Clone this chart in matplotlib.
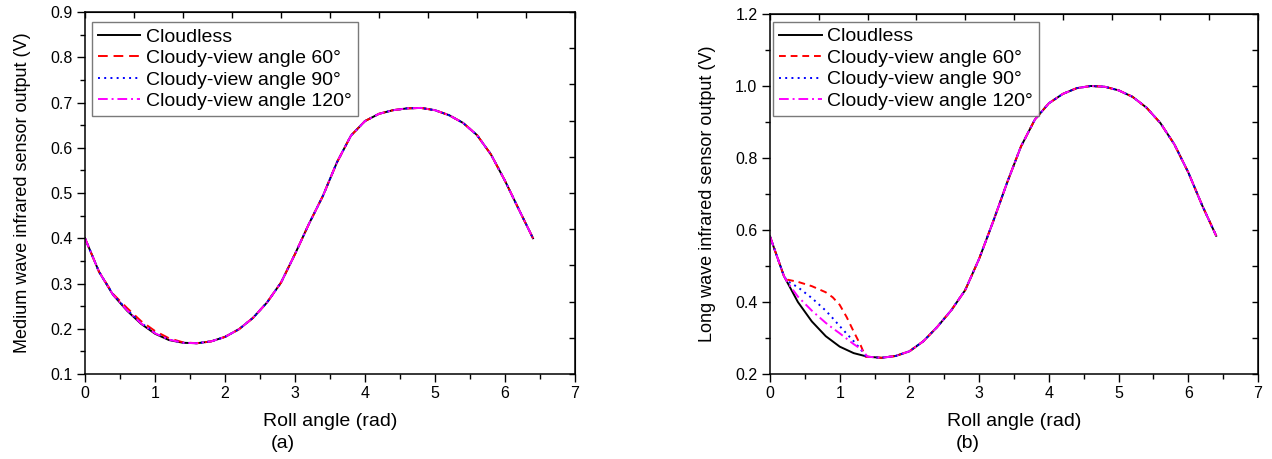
import matplotlib
matplotlib.use("Agg")
import matplotlib.pyplot as plt
import numpy as np

plt.rcParams['font.family'] = ['Liberation Sans', 'DejaVu Sans']

# roll angle grid (rad)
roll = [0, 0.2, 0.4, 0.6, 0.8, 1.0, 1.2, 1.4, 1.6, 1.8, 2.0, 2.2, 2.4, 2.6, 2.8, 3.0,
        3.2, 3.4, 3.6, 3.8, 4.0, 4.2, 4.4, 4.6, 4.8, 5.0, 5.2, 5.4, 5.6, 5.8, 6.0, 6.2, 6.4]

# (a) medium wave, cloudless
mw_clear = [0.400, 0.326, 0.275, 0.240, 0.211, 0.189, 0.175, 0.169, 0.168, 0.172, 0.182,
            0.199, 0.224, 0.258, 0.302, 0.365, 0.432, 0.494, 0.568, 0.627, 0.659, 0.675,
            0.683, 0.687, 0.688, 0.683, 0.672, 0.655, 0.628, 0.585, 0.527, 0.463, 0.400]
# (a) cloudy curves only differ on the descending branch
mw_dev_x = [0.4, 0.6, 0.8, 1.0, 1.2, 1.4]
mw_60 = [0.277, 0.246, 0.217, 0.195, 0.179, 0.170]
mw_90 = [0.276, 0.242, 0.213, 0.191, 0.176, 0.169]
mw_120 = [0.275, 0.241, 0.212, 0.190, 0.176, 0.169]

# (b) long wave, cloudless
lw_clear = [0.582, 0.472, 0.400, 0.346, 0.305, 0.276, 0.258, 0.248, 0.245, 0.250, 0.263,
            0.291, 0.331, 0.377, 0.433, 0.520, 0.623, 0.731, 0.832, 0.907, 0.952, 0.978,
            0.994, 1.000, 0.998, 0.988, 0.970, 0.940, 0.897, 0.838, 0.760, 0.668, 0.584]
lw_dev_x = [0.25, 0.4, 0.6, 0.8, 0.9, 1.0, 1.1, 1.2, 1.3, 1.37]
lw_60 = [0.462, 0.456, 0.444, 0.427, 0.413, 0.392, 0.358, 0.318, 0.280, 0.248]
lw_90 = [0.458, 0.441, 0.411, 0.376, 0.355, 0.333, 0.312, 0.291, 0.269, 0.250]
lw_120 = [0.455, 0.415, 0.376, 0.342, 0.327, 0.313, 0.298, 0.283, 0.270, 0.255]

labels = ['Cloudless', 'Cloudy-view angle 60°', 'Cloudy-view angle 90°', 'Cloudy-view angle 120°']


def splice(dev_x, dev_y, clear):
    # cloudless values outside the range where the cloud shows up
    xs = [x for x in roll if x < dev_x[0]] + dev_x + [x for x in roll if x > dev_x[-1]]
    ys = ([y for x, y in zip(roll, clear) if x < dev_x[0]] + dev_y +
          [y for x, y in zip(roll, clear) if x > dev_x[-1]])
    return xs, ys


fig = plt.figure(figsize=(12.72, 4.59), dpi=100)
ax1 = fig.add_axes([85 / 1272, 85 / 459, 490 / 1272, 362 / 459])
ax2 = fig.add_axes([770 / 1272, 85 / 459, 488 / 1272, 360 / 459])

panels = [
    (ax1, mw_clear, mw_dev_x, [mw_60, mw_90, mw_120], (0.1, 0.9), 0.1,
     'Medium wave infrared sensor output (V)', (5, 3), (0.014, 0.972)),
    (ax2, lw_clear, lw_dev_x, [lw_60, lw_90, lw_120], (0.2, 1.2), 0.2,
     'Long wave infrared sensor output (V)', (3.5, 2.5), (0.006, 0.978)),
]

for ax, clear, dev_x, devs, ylim, ystep, ylab, dash, anchor in panels:
    ax.plot(roll, clear, color='black', lw=1.4, label=labels[0])
    x60, y60 = splice(dev_x, devs[0], clear)
    x90, y90 = splice(dev_x, devs[1], clear)
    x120, y120 = splice(dev_x, devs[2], clear)
    ax.plot(x60, y60, color='red', lw=1.4, dashes=dash, label=labels[1])
    ax.plot(x90, y90, color='blue', lw=1.4, dashes=(1, 2.2), label=labels[2])
    ax.plot(x120, y120, color='magenta', lw=1.4, dashes=(5, 2, 1, 2), label=labels[3])

    ax.set_xlim(0, 7)
    ax.set_ylim(*ylim)
    ax.set_xticks(range(0, 8))
    ax.set_xticks(np.arange(0, 7.01, 0.5), minor=True)
    ax.set_yticks(np.arange(ylim[0], ylim[1] + 1e-6, ystep))
    ax.set_yticks(np.arange(ylim[0], ylim[1] + 1e-6, ystep / 2), minor=True)
    ax.yaxis.set_major_formatter(plt.FormatStrFormatter('%.1f'))
    ax.tick_params(which='major', direction='out', length=6, width=1, labelsize=11.5, pad=3)
    ax.tick_params(which='minor', direction='out', length=3.5, width=1)
    for s in ax.spines.values():
        s.set_linewidth(1.1)

    top = ax.secondary_xaxis('top')
    top.set_xticks(np.linspace(0, 7, 11))
    top.set_xticklabels([])
    top.tick_params(direction='in', length=4, width=1)
    right = ax.secondary_yaxis('right')
    right.set_yticks(np.linspace(ylim[0], ylim[1], 11))
    right.set_yticklabels([])
    right.tick_params(direction='in', length=4, width=1)

    ax.set_ylabel(ylab, fontsize=13, labelpad=14)

    leg = ax.legend(loc='upper left', bbox_to_anchor=anchor, borderaxespad=0,
                    fontsize=14, fancybox=False, frameon=True, handlelength=2.2,
                    handletextpad=0.3, labelspacing=0.2, borderpad=0.3)
    leg.get_frame().set_edgecolor('0.35')
    leg.get_frame().set_linewidth(1.0)

fig.text(330 / 1272, 1 - 421 / 459, 'Roll angle (rad)', ha='center', va='center', fontsize=14)
fig.text(1014 / 1272, 1 - 421 / 459, 'Roll angle (rad)', ha='center', va='center', fontsize=14)
fig.text(283 / 1272, 1 - 443 / 459, '(a)', ha='center', va='center', fontsize=14)
fig.text(968 / 1272, 1 - 443 / 459, '(b)', ha='center', va='center', fontsize=14)

fig.savefig('out.png', dpi=100)
